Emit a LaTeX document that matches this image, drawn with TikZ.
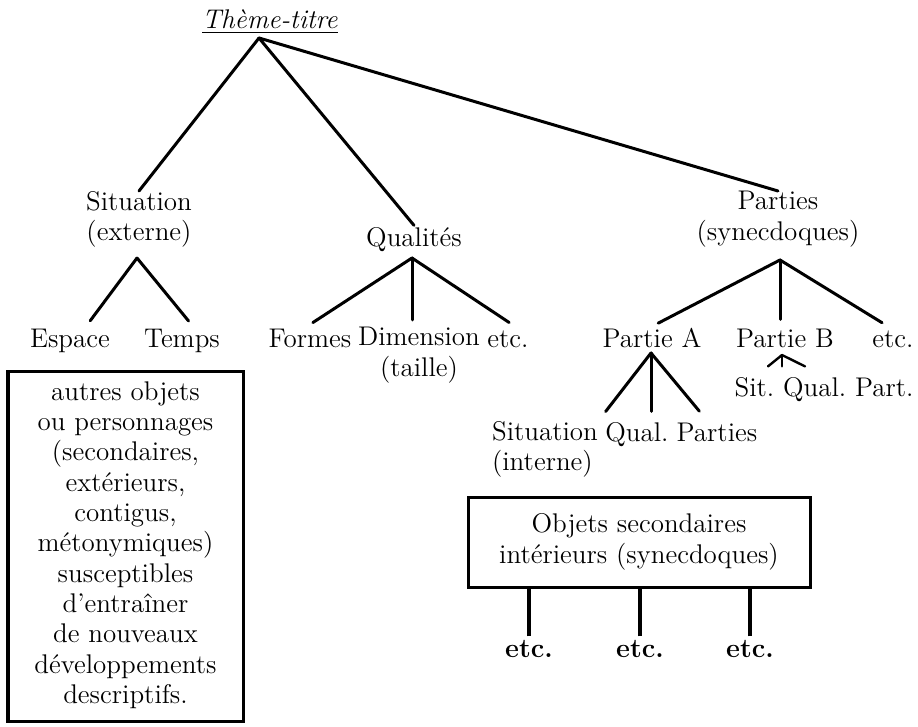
\documentclass[tikz,border=0pt]{standalone}
\usepackage{tikz}
\usetikzlibrary{positioning}

\newcommand{\labfont}{\fontsize{13.5}{15.15}\selectfont}
\frenchspacing

\begin{document}
\begin{tikzpicture}[
    x=0.5pt, y=-0.5pt,
    lbl/.style={font=\labfont, inner sep=0pt, execute at begin node=\strut},
    boxnode/.style={lbl, draw, line width=1.5pt, align=center},
    branch/.style={line width=1.5pt, line cap=round},
    twig/.style={branch, shorten >=3.5pt},
    stem/.style={line width=2pt}
    ]
        \useasboundingbox (0,0) rectangle (918,727);

        %Nodes
        \node[lbl, anchor=base] (theme) at (270,29) {\underline{\textit{Thème-titre}}};
        \node[lbl, anchor=north, align=center] (sitE) at (139,191) {Situation\\(externe)};
        \node[lbl, anchor=base] (qual) at (414,247) {Qualités};
        \node[lbl, anchor=north, align=center] (parties) at (778,191) {Parties\\(synecdoques)};

        \node[lbl, anchor=base] (espace) at (70,348) {Espace};
        \node[lbl, anchor=base] (temps) at (182,348) {Temps};
        \node[lbl, anchor=base] (formes) at (310,348) {Formes};
        \node[lbl, anchor=north, align=center] (dim) at (419,327) {Dimension\\(taille)};
        \node[lbl, anchor=base] (etcQ) at (508,348) {etc.};
        \node[lbl, anchor=base] (partA) at (652,348) {Partie A};
        \node[lbl, anchor=base] (partB) at (785,348) {Partie B};
        \node[lbl, anchor=base] (etcP) at (893,348) {etc.};

        \node[lbl, anchor=north, align=left] (sitI) at (545,421) {Situation\\(interne)};
        \node[lbl, anchor=base] (qualI) at (637,442) {Qual.};
        \node[lbl, anchor=base] (partiesI) at (717,442) {Parties};
        \node[lbl, anchor=base] (sitqp) at (824,397) {Sit. Qual. Part.};

        \node[boxnode, minimum width=117.5pt, minimum height=175pt] (autres) at (125.5,547)
            {autres objets\\ou personnages\\(secondaires,\\extérieurs,\\contigus,\\métonymiques)\\susceptibles\\d'entraîner\\de nouveaux\\développements\\descriptifs.};
        \node[boxnode, minimum width=171pt, minimum height=45pt] (objets) at (639,543)
            {Objets secondaires\\intérieurs (synecdoques)};

        \node[lbl, font=\labfont\bfseries, anchor=base] (etc1) at (529,658) {etc.};
        \node[lbl, font=\labfont\bfseries, anchor=base] (etc2) at (640,658) {etc.};
        \node[lbl, font=\labfont\bfseries, anchor=base] (etc3) at (750,658) {etc.};

        %Forks
        \coordinate (root) at (259,38);
        \coordinate (sitE-fork) at (137,258);
        \coordinate (qual-fork) at (412,258);
        \coordinate (parties-fork) at (780,260);
        \coordinate (partA-fork) at (651,353);
        \coordinate (partB-fork) at (782,355);

        %Lines
        \draw[branch] (root) -- (sitE.north);
        \draw[branch] (root) -- (qual.north);
        \draw[branch] (root) -- (parties.north);

        \draw[twig] (sitE-fork) -- ([xshift=8pt]espace.north);
        \draw[twig] (sitE-fork) -- ([xshift=5.5pt]temps.north);

        \draw[twig] (qual-fork) -- ([xshift=-1.5pt]formes.north);
        \draw[twig] (qual-fork) -- ([xshift=-3.5pt]dim.north);
        \draw[twig] (qual-fork) -- ([xshift=3.5pt]etcQ.north);

        \draw[twig] (parties-fork) -- (partA.north);
        \draw[twig] (parties-fork) -- ([xshift=-2.5pt]partB.north);
        \draw[twig] (parties-fork) -- ([xshift=-2.5pt]etcP.north);

        \draw[twig, shorten >=6pt] (partA-fork) -- (sitI.north east);
        \draw[twig, shorten >=4.5pt] (partA-fork) -- ([xshift=7pt]qualI.north);
        \draw[twig, shorten >=6pt] (partA-fork) -- ([xshift=-5pt]partiesI.north);

        \draw[branch, line width=1.2pt] (partB-fork) -- ([shift={(-28pt,4.5pt)}]sitqp.north);
        \draw[branch, line width=1.2pt] (partB-fork) -- ([shift={(-21pt,4.5pt)}]sitqp.north);
        \draw[branch, line width=1.2pt] (partB-fork) -- ([shift={(-9.5pt,4.5pt)}]sitqp.north);

        \draw[stem] (etc1.north) -- (etc1.north |- objets.south);
        \draw[stem] (etc2.north) -- (etc2.north |- objets.south);
        \draw[stem] (etc3.north) -- (etc3.north |- objets.south);
    \end{tikzpicture}
\end{document}
